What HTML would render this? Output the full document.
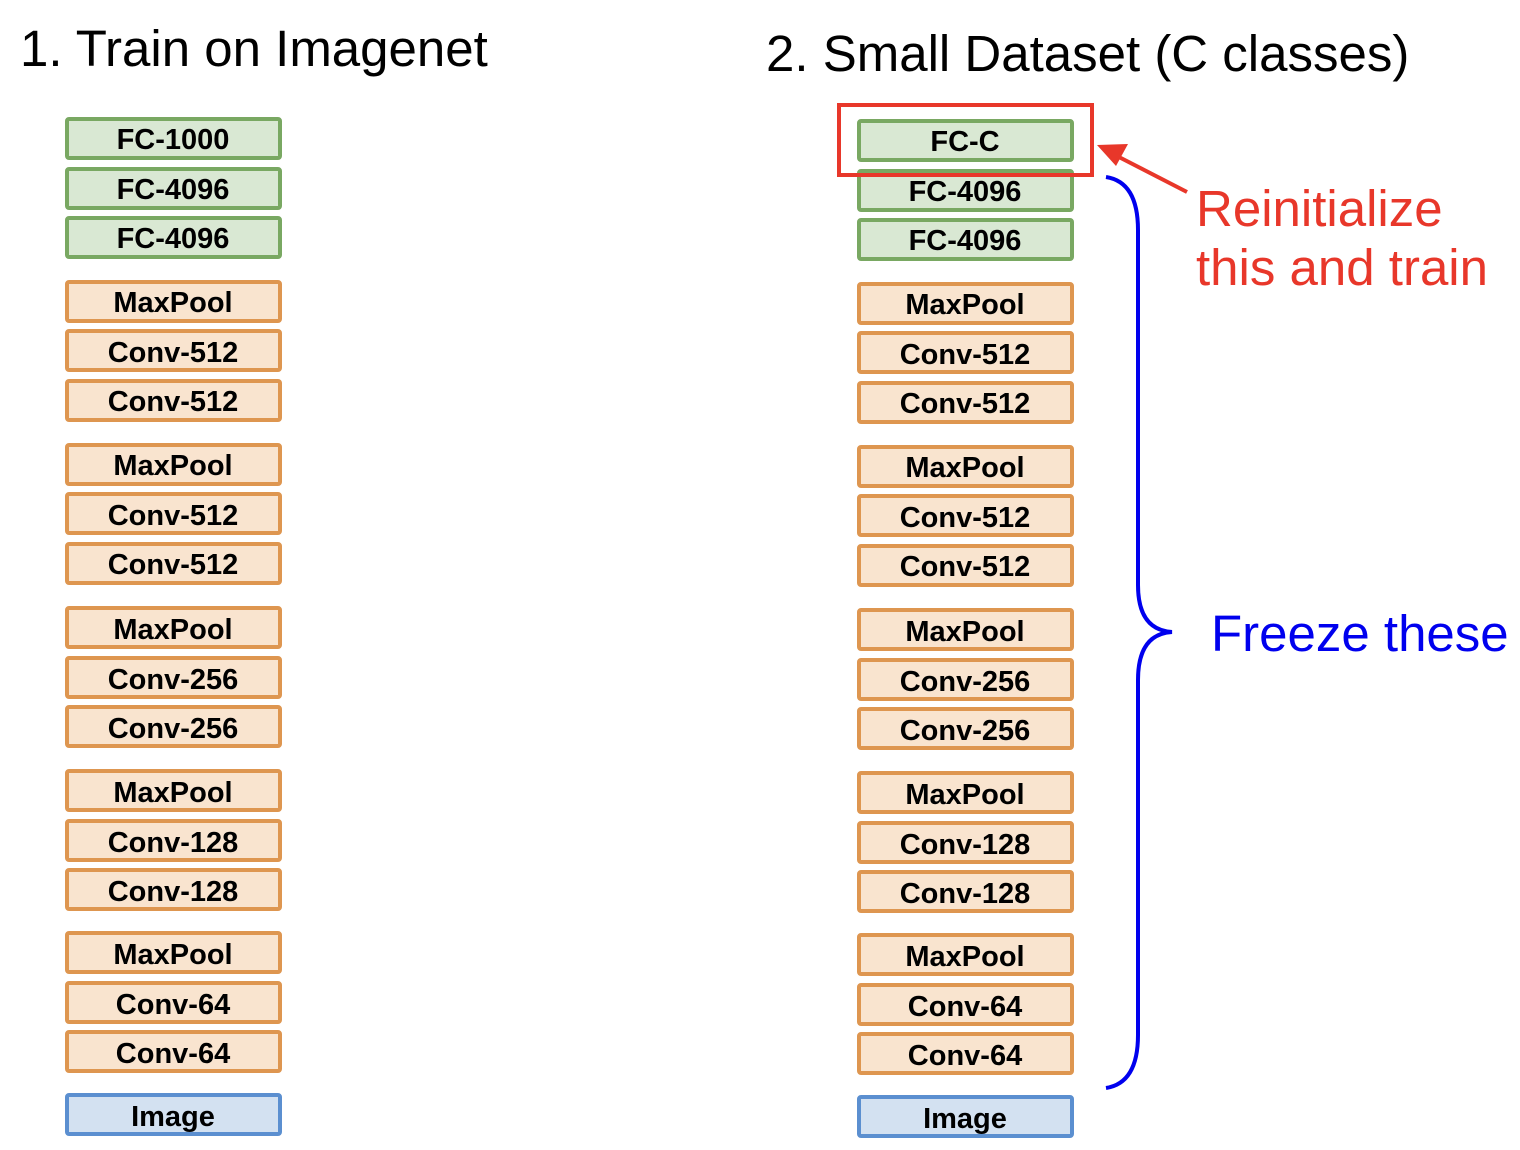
<!DOCTYPE html>
<html><head><meta charset="utf-8"><style>body{margin:0;background:#fff}svg{display:block}</style></head>
<body>
<svg width="1520" height="1150" viewBox="0 0 1520 1150" xmlns="http://www.w3.org/2000/svg" font-family="Liberation Sans, sans-serif">
<text x="20" y="66" font-size="51">1. Train on Imagenet</text>
<text x="766" y="71" font-size="51">2. Small Dataset (C classes)</text>
<g font-size="29" font-weight="bold" text-anchor="middle" stroke-width="4">
<g fill="#d9e8d3" stroke="#79a862"><rect x="67" y="119" width="213" height="39" rx="2"/><rect x="67" y="169" width="213" height="39" rx="2"/><rect x="67" y="218" width="213" height="39" rx="2"/></g>
<g fill="#f9e4cf" stroke="#de9650">
<rect x="67" y="282" width="213" height="39" rx="2"/><rect x="67" y="331" width="213" height="39" rx="2"/><rect x="67" y="381" width="213" height="39" rx="2"/>
<rect x="67" y="445" width="213" height="39" rx="2"/><rect x="67" y="494" width="213" height="39" rx="2"/><rect x="67" y="544" width="213" height="39" rx="2"/>
<rect x="67" y="608" width="213" height="39" rx="2"/><rect x="67" y="658" width="213" height="39" rx="2"/><rect x="67" y="707" width="213" height="39" rx="2"/>
<rect x="67" y="771" width="213" height="39" rx="2"/><rect x="67" y="821" width="213" height="39" rx="2"/><rect x="67" y="870" width="213" height="39" rx="2"/>
<rect x="67" y="933" width="213" height="39" rx="2"/><rect x="67" y="983" width="213" height="39" rx="2"/><rect x="67" y="1032" width="213" height="39" rx="2"/></g>
<rect x="67" y="1095" width="213" height="39" rx="2" fill="#d3e1f1" stroke="#5b8fd0"/>
<g stroke="none" fill="#000">
<text x="173" y="149">FC-1000</text><text x="173" y="199">FC-4096</text><text x="173" y="248">FC-4096</text>
<text x="173" y="312">MaxPool</text><text x="173" y="362">Conv-512</text><text x="173" y="411">Conv-512</text>
<text x="173" y="475">MaxPool</text><text x="173" y="525">Conv-512</text><text x="173" y="574">Conv-512</text>
<text x="173" y="639">MaxPool</text><text x="173" y="689">Conv-256</text><text x="173" y="738">Conv-256</text>
<text x="173" y="802">MaxPool</text><text x="173" y="852">Conv-128</text><text x="173" y="901">Conv-128</text>
<text x="173" y="964">MaxPool</text><text x="173" y="1014">Conv-64</text><text x="173" y="1063">Conv-64</text>
<text x="173" y="1126">Image</text></g>
<g transform="translate(792,2)">
<g fill="#d9e8d3" stroke="#79a862"><rect x="67" y="119" width="213" height="39" rx="2"/><rect x="67" y="169" width="213" height="39" rx="2"/><rect x="67" y="218" width="213" height="39" rx="2"/></g>
<g fill="#f9e4cf" stroke="#de9650">
<rect x="67" y="282" width="213" height="39" rx="2"/><rect x="67" y="331" width="213" height="39" rx="2"/><rect x="67" y="381" width="213" height="39" rx="2"/>
<rect x="67" y="445" width="213" height="39" rx="2"/><rect x="67" y="494" width="213" height="39" rx="2"/><rect x="67" y="544" width="213" height="39" rx="2"/>
<rect x="67" y="608" width="213" height="39" rx="2"/><rect x="67" y="658" width="213" height="39" rx="2"/><rect x="67" y="707" width="213" height="39" rx="2"/>
<rect x="67" y="771" width="213" height="39" rx="2"/><rect x="67" y="821" width="213" height="39" rx="2"/><rect x="67" y="870" width="213" height="39" rx="2"/>
<rect x="67" y="933" width="213" height="39" rx="2"/><rect x="67" y="983" width="213" height="39" rx="2"/><rect x="67" y="1032" width="213" height="39" rx="2"/></g>
<rect x="67" y="1095" width="213" height="39" rx="2" fill="#d3e1f1" stroke="#5b8fd0"/>
<g stroke="none" fill="#000">
<text x="173" y="149">FC-C</text><text x="173" y="199">FC-4096</text><text x="173" y="248">FC-4096</text>
<text x="173" y="312">MaxPool</text><text x="173" y="362">Conv-512</text><text x="173" y="411">Conv-512</text>
<text x="173" y="475">MaxPool</text><text x="173" y="525">Conv-512</text><text x="173" y="574">Conv-512</text>
<text x="173" y="639">MaxPool</text><text x="173" y="689">Conv-256</text><text x="173" y="738">Conv-256</text>
<text x="173" y="802">MaxPool</text><text x="173" y="852">Conv-128</text><text x="173" y="901">Conv-128</text>
<text x="173" y="964">MaxPool</text><text x="173" y="1014">Conv-64</text><text x="173" y="1063">Conv-64</text>
<text x="173" y="1126">Image</text></g>
</g>
</g>
<rect x="839" y="105" width="253" height="70" fill="none" stroke="#e8372a" stroke-width="4"/>
<line x1="1187" y1="192" x2="1115" y2="155" stroke="#e8372a" stroke-width="4"/>
<polygon points="1097,145 1128,144 1116,166" fill="#e8372a"/>
<path d="M1106,177 Q1138,182 1138,230 L1138,585 Q1138,630 1172,632 Q1138,634 1138,680 L1138,1035 Q1138,1083 1106,1088" fill="none" stroke="#0000ee" stroke-width="4"/>
<text x="1196" y="226" font-size="51" fill="#e8372a">Reinitialize</text>
<text x="1196" y="285" font-size="51" fill="#e8372a">this and train</text>
<text x="1211" y="651" font-size="51" fill="#0000ee">Freeze these</text>
</svg>
</body></html>
